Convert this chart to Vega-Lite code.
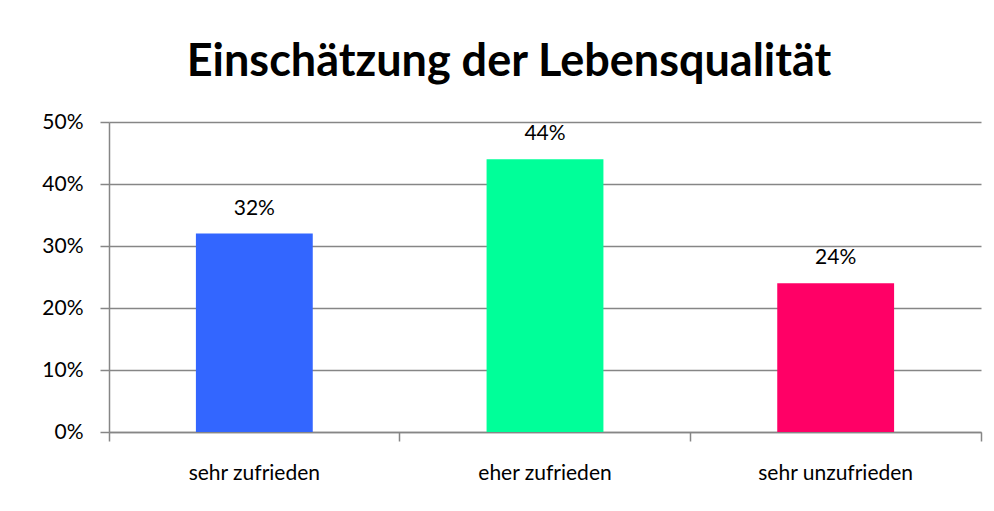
{
  "$schema": "https://vega.github.io/schema/vega-lite/v6.json",
  "autosize": {"type": "none"},
  "width": 872,
  "height": 310,
  "padding": {"left": 109, "top": 122, "right": 13, "bottom": 79},
  "background": "white",
  "title": {
    "text": "Einschätzung der Lebensqualität",
    "font": "Lato",
    "fontSize": 45,
    "fontWeight": "bold",
    "color": "#000000",
    "anchor": "middle",
    "baseline": "alphabetic",
    "dx": -36,
    "offset": -10
  },
  "data": {
    "values": [
      {"kategorie": "sehr zufrieden", "anteil": 0.32},
      {"kategorie": "eher zufrieden", "anteil": 0.44},
      {"kategorie": "sehr unzufrieden", "anteil": 0.24}
    ]
  },
  "encoding": {
    "x": {
      "field": "kategorie",
      "type": "nominal",
      "sort": null,
      "scale": {"paddingInner": 0, "paddingOuter": 0},
      "axis": {
        "title": null,
        "labelAngle": 0,
        "labelFont": "Lato",
        "labelFontSize": 21,
        "labelColor": "#000000",
        "labelPadding": 21,
        "domainColor": "#868686",
        "domainWidth": 1.5,
        "tickColor": "#868686",
        "tickWidth": 1.5,
        "tickSize": 9,
        "bandPosition": 1,
        "tickExtra": true,
        "grid": false
      }
    },
    "y": {
      "field": "anteil",
      "type": "quantitative",
      "scale": {"domain": [0, 0.5], "nice": false},
      "axis": {
        "title": null,
        "values": [0, 0.1, 0.2, 0.3, 0.4, 0.5],
        "format": ".0%",
        "labelFont": "Lato",
        "labelFontSize": 21,
        "labelColor": "#000000",
        "labelPadding": 17,
        "domainColor": "#868686",
        "domainWidth": 1.5,
        "tickColor": "#868686",
        "tickWidth": 1.5,
        "tickSize": 9,
        "grid": true,
        "gridColor": "#868686",
        "gridWidth": 1.5
      }
    }
  },
  "layer": [
    {
      "mark": {"type": "bar", "width": {"band": 0.402}},
      "encoding": {
        "color": {
          "field": "kategorie",
          "type": "nominal",
          "scale": {
            "domain": ["sehr zufrieden", "eher zufrieden", "sehr unzufrieden"],
            "range": ["#3366FF", "#00FF99", "#FF0066"]
          },
          "legend": null
        }
      }
    },
    {
      "mark": {
        "type": "text",
        "font": "Lato",
        "fontSize": 21,
        "color": "#000000",
        "baseline": "alphabetic",
        "align": "center",
        "dy": -19
      },
      "encoding": {
        "text": {"field": "anteil", "type": "quantitative", "format": ".0%"}
      }
    }
  ],
  "config": {
    "view": {"stroke": null}
  }
}
